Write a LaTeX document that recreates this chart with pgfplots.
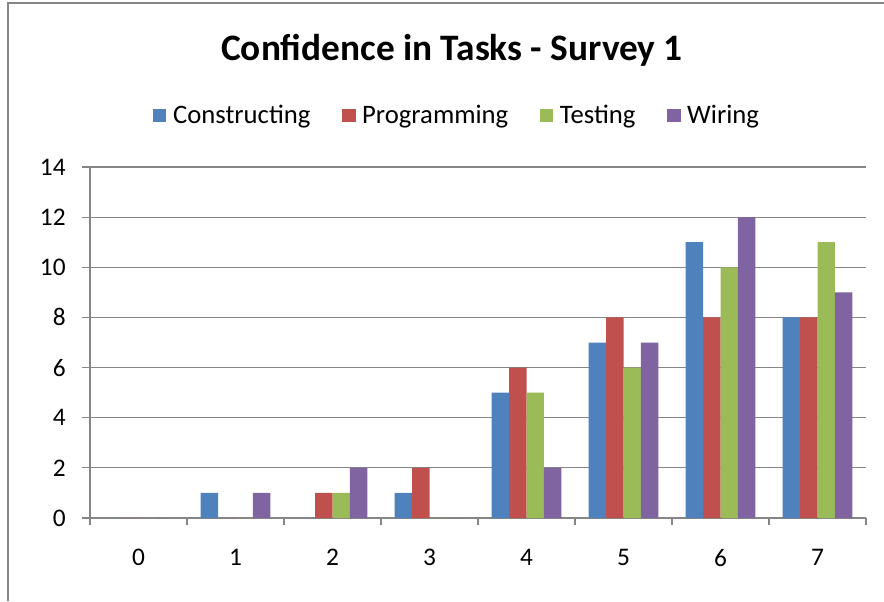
\documentclass[border=0pt]{standalone}
\usepackage{fontspec}
\setmainfont{Carlito}
\usepackage{pgfplots}
\pgfplotsset{compat=1.18}
\definecolor{cBlue}{RGB}{79,129,189}
\definecolor{cRed}{RGB}{192,80,77}
\definecolor{cGreen}{RGB}{155,187,89}
\definecolor{cPurple}{RGB}{128,100,162}
\definecolor{cGrid}{RGB}{134,134,134}
\begin{document}
\begin{tikzpicture}[x=0.75pt,y=0.75pt]
\draw[cGrid,line width=1.2pt] (8,0) -- (8,598) -- (884,598);
\begin{axis}[
  at={(67.5pt,62.25pt)}, anchor=south west,
  scale only axis, width=582pt, height=263.25pt,
  ybar=0pt, bar width=13.1pt,
  xmin=-0.5, xmax=7.5, ymin=0, ymax=14,
  xtick={0,...,7},
  minor xtick={-0.5,0.5,...,7.5},
  ytick={0,2,...,14},
  axis x line*=bottom, axis y line*=left,
  axis line style={cGrid,line width=0.9pt,-},
  tick align=outside,
  major x tick style={draw=none},
  minor tick length=5.25pt,
  major tick length=6pt,
  every tick/.style={cGrid,line width=0.9pt},
  minor tick style={cGrid,line width=0.9pt},
  ymajorgrids, grid style={cGrid,line width=0.9pt},
  /pgf/number format/assume math mode=true,
  ticklabel style={font=\fontsize{19}{22}\selectfont},
  xticklabel style={yshift=-14pt},
  yticklabel style={xshift=-8.75pt},
  title={\fontsize{28}{32}\selectfont\bfseries Confidence in Tasks - Survey 1},
  title style={at={(0.4665,1.310)},anchor=center},
  legend style={at={(0.4736,1.1480)},anchor=center,draw=none,
    font=\fontsize{20}{22}\selectfont, legend columns=4,
    /tikz/every even column/.append style={column sep=22pt}},
  legend image code/.code={\fill[#1] (0pt,-4.9pt) rectangle (9.8pt,4.9pt); \path (0pt,0pt) (12.8pt,0pt);},
]
\addplot[fill=cBlue,draw=none] coordinates {(0,0) (1,1) (2,0) (3,1) (4,5) (5,7) (6,11) (7,8)};
\addplot[fill=cRed,draw=none] coordinates {(0,0) (1,0) (2,1) (3,2) (4,6) (5,8) (6,8) (7,8)};
\addplot[fill=cGreen,draw=none] coordinates {(0,0) (1,0) (2,1) (3,0) (4,5) (5,6) (6,10) (7,11)};
\addplot[fill=cPurple,draw=none] coordinates {(0,0) (1,1) (2,2) (3,0) (4,2) (5,7) (6,12) (7,9)};
\legend{Constructing,Programming,Testing,Wiring}
\end{axis}
\pgfresetboundingbox
\useasboundingbox (0pt,0pt) rectangle (663pt,450.75pt);
\end{tikzpicture}
\end{document}
